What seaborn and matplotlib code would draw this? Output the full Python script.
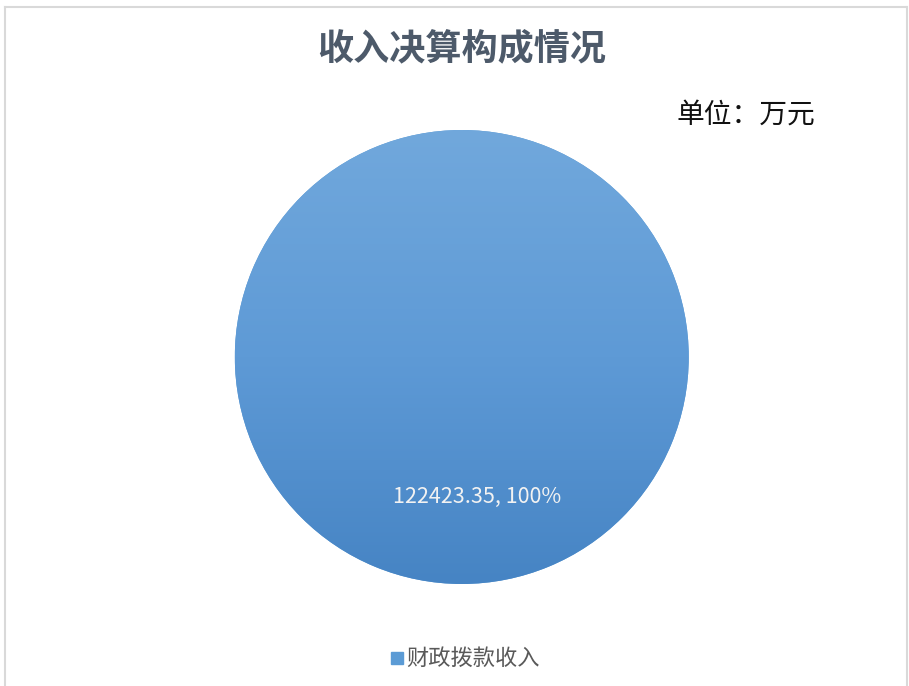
import numpy as np
import matplotlib
matplotlib.use("Agg")
import matplotlib.pyplot as plt
import seaborn as sns
from matplotlib.colors import LinearSegmentedColormap

# data
categories = ["财政拨款收入"]
values = [122423.35]
title = "收入决算构成情况"
unit_text = "单位：万元"

sns.set_theme(style="white")
plt.rcParams['font.family'] = ['Noto Sans CJK SC', 'DejaVu Sans']

fig = plt.figure(figsize=(9.09, 6.86), dpi=100)
fig.patch.set_facecolor("white")

# thin frame like the exported chart area
frame = fig.add_axes([0.005, 0.0, 0.993, 0.99])
frame.set_xticks([])
frame.set_yticks([])
for s in frame.spines.values():
    s.set_color("#d9d9d9")
    s.set_linewidth(1.5)
frame.spines["bottom"].set_visible(False)
frame.patch.set_alpha(0)

ax = fig.add_axes([0.508 - 0.2497, 0.4796 - 0.3309, 0.4994, 0.6618])
total = sum(values)
wedges, _ = ax.pie(values, colors=["#5b9bd5"], startangle=90, radius=1.0,
                   wedgeprops=dict(linewidth=0))
ax.set_xlim(-1, 1)
ax.set_ylim(-1, 1)
ax.set_aspect("equal")

# vertical gradient clipped to the pie
cmap = LinearSegmentedColormap.from_list("g", ["#4684c4", "#5e9ad6", "#71a8dc"])
grad = np.linspace(0, 1, 256).reshape(-1, 1)
img = ax.imshow(grad, cmap=cmap, extent=[-1, 1, -1, 1], origin="lower",
                aspect="auto", zorder=2)
img.set_clip_path(wedges[0])

for v, c in zip(values, categories):
    ax.text(0.066, -0.615, f"{v:.2f}, {v / total:.0%}", ha="center", va="center",
            color="#f2f2f2", fontsize=15.5, zorder=3)

fig.text(0.508, 0.929, title, ha="center", va="center", fontsize=26,
         fontweight="bold", color="#4d5a6a")
fig.text(0.821, 0.833, unit_text, ha="center", va="center", fontsize=20,
         color="#111111")

# legend
fig.patches.append(plt.Rectangle((391 / 909, 1 - 664 / 686), 12 / 909, 12 / 686,
                                 transform=fig.transFigure, color="#5b9bd5"))
fig.text(406 / 909, 1 - 658 / 686, categories[0], ha="left", va="center",
         fontsize=16, color="#595959")

fig.savefig("out.png", dpi=100, facecolor="white")
